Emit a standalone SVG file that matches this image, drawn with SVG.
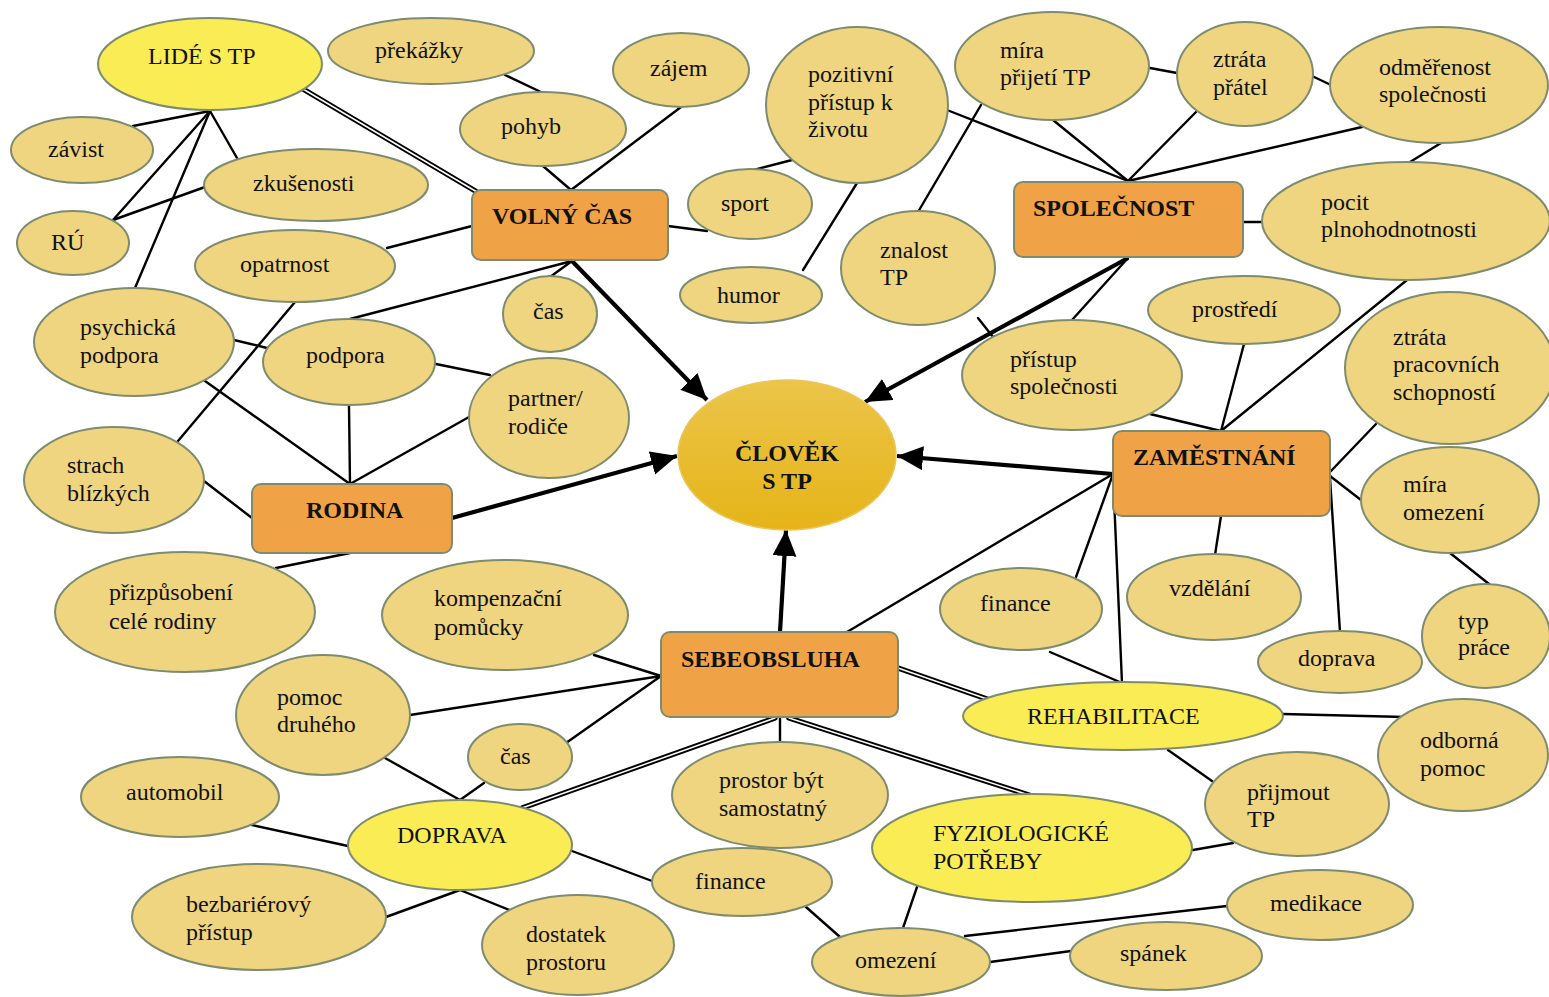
<svg xmlns="http://www.w3.org/2000/svg" width="1549" height="997" viewBox="0 0 1549 997" font-family="Liberation Serif, Times New Roman, DejaVu Serif, serif">
<style>
.n ellipse{fill:#EFD580;stroke:#7D8B6E;stroke-width:2}
.y ellipse{fill:#FAEC55;stroke:#7D8B6E;stroke-width:2}
.r rect{fill:#F0A346;stroke:#7D8B6E;stroke-width:2}
text{font-family:'Liberation Serif','Times New Roman',serif;font-size:24px;fill:#111}
.b{font-weight:bold}
#connectors line{stroke:#000;stroke-width:2.4;stroke-linecap:round}
#connectors line.t{stroke-width:4.2;stroke-linecap:butt}
#connectors line.d{stroke-width:5.4}
#connectors line.di{stroke:#fff;stroke-width:1.5}
</style>
<defs>
<marker id="arr" markerUnits="userSpaceOnUse" markerWidth="28" markerHeight="26" refX="26" refY="12" orient="auto">
<path d="M0,0 L26,12 L0,24 z" fill="#000"/>
</marker>
<linearGradient id="gc" x1="0" y1="0" x2="0" y2="1">
<stop offset="0" stop-color="#EBC54A"/>
<stop offset="1" stop-color="#E6B418"/>
</linearGradient>
</defs>
<rect width="1549" height="997" fill="#fff"/>
<g id="connectors">
<line x1="210" y1="111" x2="133" y2="126"/>
<line x1="210" y1="111" x2="237" y2="158"/>
<line x1="210" y1="111" x2="113" y2="220"/>
<line x1="210" y1="111" x2="135" y2="288"/>
<line x1="205" y1="187" x2="113" y2="220"/>
<line class="d" x1="303" y1="89" x2="477" y2="192"/><line class="di" x1="303" y1="89" x2="477" y2="192"/>
<line x1="505" y1="75" x2="543" y2="93"/>
<line x1="543" y1="166" x2="571" y2="190"/>
<line x1="681" y1="107" x2="571" y2="190"/>
<line x1="387" y1="248" x2="472" y2="226"/>
<line x1="668" y1="226" x2="707" y2="231"/>
<line x1="572" y1="261" x2="350" y2="319"/>
<line x1="572" y1="261" x2="550" y2="277"/>
<line class="t" x1="572" y1="261" x2="707" y2="400" marker-end="url(#arr)"/>
<line x1="750" y1="171" x2="792" y2="160"/>
<line x1="803" y1="270" x2="857" y2="183"/>
<line x1="947" y1="110" x2="1128" y2="181"/>
<line x1="918" y1="212" x2="981" y2="105"/>
<line x1="1053" y1="120" x2="1128" y2="181"/>
<line x1="1150" y1="68" x2="1177" y2="73"/>
<line x1="1312" y1="76" x2="1331" y2="85"/>
<line x1="1196" y1="112" x2="1128" y2="181"/>
<line x1="1362" y1="127" x2="1128" y2="181"/>
<line x1="1441" y1="143" x2="1410" y2="162"/>
<line x1="1243" y1="222" x2="1263" y2="222"/>
<line class="t" x1="1128" y1="258" x2="865" y2="402" marker-end="url(#arr)"/>
<line x1="1128" y1="258" x2="1072" y2="320"/>
<line x1="978" y1="318" x2="993" y2="337"/>
<line x1="1150" y1="414" x2="1221" y2="431"/>
<line x1="1244" y1="344" x2="1221" y2="431"/>
<line x1="1407" y1="280" x2="1221" y2="431"/>
<line x1="1376" y1="424" x2="1330" y2="472"/>
<line x1="1330" y1="476" x2="1361" y2="500"/>
<line x1="1450" y1="553" x2="1489" y2="584"/>
<line x1="1221" y1="516" x2="1215" y2="555"/>
<line class="t" x1="1113" y1="474" x2="897" y2="456" marker-end="url(#arr)"/>
<line x1="1113" y1="474" x2="1076" y2="577"/>
<line x1="1113" y1="474" x2="847" y2="632"/>
<line x1="1113" y1="474" x2="1122" y2="683"/>
<line x1="1330" y1="478" x2="1340" y2="632"/>
<line x1="1050" y1="652" x2="1122" y2="683"/>
<line x1="1283" y1="714" x2="1405" y2="717"/>
<line x1="1168" y1="750" x2="1212" y2="781"/>
<line x1="1193" y1="850" x2="1233" y2="843"/>
<line class="d" x1="898" y1="668" x2="987" y2="699"/><line class="di" x1="898" y1="668" x2="987" y2="699"/>
<line class="d" x1="789" y1="718" x2="1032" y2="796"/><line class="di" x1="789" y1="718" x2="1032" y2="796"/>
<line class="d" x1="775" y1="718" x2="522" y2="808"/><line class="di" x1="775" y1="718" x2="522" y2="808"/>
<line x1="780" y1="717" x2="780" y2="742"/>
<line class="t" x1="780" y1="632" x2="786" y2="530" marker-end="url(#arr)"/>
<line x1="661" y1="676" x2="594" y2="655"/>
<line x1="661" y1="676" x2="410" y2="715"/>
<line x1="661" y1="676" x2="566" y2="743"/>
<line class="t" x1="452" y1="518" x2="677" y2="456" marker-end="url(#arr)"/>
<line x1="350" y1="484" x2="205" y2="381"/>
<line x1="350" y1="484" x2="349" y2="406"/>
<line x1="350" y1="484" x2="469" y2="417"/>
<line x1="252" y1="518" x2="204" y2="481"/>
<line x1="350" y1="553" x2="276" y2="568"/>
<line x1="234" y1="340" x2="267" y2="348"/>
<line x1="436" y1="364" x2="490" y2="375"/>
<line x1="295" y1="302" x2="178" y2="441"/>
<line x1="385" y1="758" x2="460" y2="800"/>
<line x1="484" y1="783" x2="460" y2="800"/>
<line x1="252" y1="825" x2="348" y2="846"/>
<line x1="460" y1="890" x2="386" y2="917"/>
<line x1="460" y1="890" x2="512" y2="911"/>
<line x1="572" y1="851" x2="652" y2="881"/>
<line x1="806" y1="907" x2="840" y2="937"/>
<line x1="917" y1="887" x2="903" y2="928"/>
<line x1="965" y1="936" x2="1227" y2="906"/>
<line x1="990" y1="962" x2="1071" y2="951"/>
</g>

<g id="lide" class="y"><ellipse cx="210" cy="64" rx="112" ry="46"/><text x="148" y="64">LIDÉ S TP</text></g>
<g id="prekazky" class="n"><ellipse cx="431" cy="51" rx="103" ry="33"/><text x="375" y="58">překážky</text></g>
<g id="zajem" class="n"><ellipse cx="681" cy="70" rx="68" ry="37"/><text x="650" y="76">zájem</text></g>
<g id="pohyb" class="n"><ellipse cx="543" cy="129" rx="83" ry="37"/><text x="501" y="134">pohyb</text></g>
<g id="pozitivni" class="n"><ellipse cx="857" cy="105" rx="91" ry="78"/><text x="808" y="82">pozitivní</text><text x="808" y="110">přístup k</text><text x="808" y="137">životu</text></g>
<g id="mira-prijeti" class="n"><ellipse cx="1052" cy="66" rx="97" ry="54"/><text x="1000" y="58">míra</text><text x="1000" y="85">přijetí TP</text></g>
<g id="ztrata-pratel" class="n"><ellipse cx="1245" cy="74" rx="68" ry="52"/><text x="1213" y="67">ztráta</text><text x="1213" y="95">přátel</text></g>
<g id="odmerenost" class="n"><ellipse cx="1439" cy="85" rx="109" ry="58"/><text x="1379" y="75">odměřenost</text><text x="1379" y="102">společnosti</text></g>
<g id="zavist" class="n"><ellipse cx="82" cy="150" rx="71" ry="33"/><text x="48" y="157">závist</text></g>
<g id="zkusenosti" class="n"><ellipse cx="316" cy="185" rx="112" ry="36"/><text x="253" y="191">zkušenosti</text></g>
<g id="ru" class="n"><ellipse cx="73" cy="243" rx="56" ry="32"/><text x="51" y="250">RÚ</text></g>
<g id="opatrnost" class="n"><ellipse cx="295" cy="266" rx="100" ry="36"/><text x="240" y="272">opatrnost</text></g>
<g id="volny-cas" class="r"><rect x="472" y="190" width="196" height="70" rx="9"/><text class="b" x="492" y="224">VOLNÝ ČAS</text></g>
<g id="sport" class="n"><ellipse cx="750" cy="204" rx="62" ry="35"/><text x="721" y="211">sport</text></g>
<g id="humor" class="n"><ellipse cx="751" cy="295" rx="71" ry="28"/><text x="717" y="303">humor</text></g>
<g id="znalost" class="n"><ellipse cx="918" cy="268" rx="77" ry="57"/><text x="880" y="258">znalost</text><text x="880" y="285">TP</text></g>
<g id="spolecnost" class="r"><rect x="1014" y="182" width="229" height="75" rx="9"/><text class="b" x="1033" y="216">SPOLEČNOST</text></g>
<g id="pocit" class="n"><ellipse cx="1406" cy="221" rx="144" ry="59"/><text x="1321" y="210">pocit</text><text x="1321" y="237">plnohodnotnosti</text></g>
<g id="prostredi" class="n"><ellipse cx="1244" cy="310" rx="96" ry="34"/><text x="1192" y="317">prostředí</text></g>
<g id="pristup-spol" class="n"><ellipse cx="1072" cy="375" rx="110" ry="55"/><text x="1010" y="367">přístup</text><text x="1010" y="394">společnosti</text></g>
<g id="ztrata-prac" class="n"><ellipse cx="1450" cy="368" rx="105" ry="76"/><text x="1393" y="345">ztráta</text><text x="1393" y="372">pracovních</text><text x="1393" y="400">schopností</text></g>
<g id="psychicka" class="n"><ellipse cx="134" cy="342" rx="100" ry="54"/><text x="80" y="335">psychická</text><text x="80" y="363">podpora</text></g>
<g id="podpora" class="n"><ellipse cx="349" cy="362" rx="86" ry="43"/><text x="306" y="363">podpora</text></g>
<g id="cas1" class="n"><ellipse cx="550" cy="314" rx="47" ry="38"/><text x="533" y="319">čas</text></g>
<g id="partner" class="n"><ellipse cx="549" cy="418" rx="80" ry="60"/><text x="508" y="406">partner/</text><text x="508" y="434">rodiče</text></g>
<g id="clovek"><ellipse cx="787" cy="455" rx="109" ry="75" fill="url(#gc)" stroke="#EAC55C" stroke-width="1.5"/><text class="b" x="787" y="461" text-anchor="middle">ČLOVĚK</text><text class="b" x="787" y="489" text-anchor="middle">S TP</text></g>
<g id="strach" class="n"><ellipse cx="114" cy="480" rx="90" ry="53"/><text x="67" y="473">strach</text><text x="67" y="501">blízkých</text></g>
<g id="rodina" class="r"><rect x="252" y="484" width="200" height="69" rx="9"/><text class="b" x="306" y="518">RODINA</text></g>
<g id="zamestnani" class="r"><rect x="1113" y="431" width="217" height="85" rx="9"/><text class="b" x="1133" y="465">ZAMĚSTNÁNÍ</text></g>
<g id="mira-omezeni" class="n"><ellipse cx="1450" cy="500" rx="89" ry="53"/><text x="1403" y="492">míra</text><text x="1403" y="520">omezení</text></g>
<g id="prizpusobeni" class="n"><ellipse cx="185" cy="612" rx="130" ry="60"/><text x="109" y="600">přizpůsobení</text><text x="109" y="629">celé rodiny</text></g>
<g id="kompenzacni" class="n"><ellipse cx="505" cy="615" rx="123" ry="55"/><text x="434" y="606">kompenzační</text><text x="434" y="635">pomůcky</text></g>
<g id="finance1" class="n"><ellipse cx="1021" cy="609" rx="81" ry="41"/><text x="980" y="611">finance</text></g>
<g id="vzdelani" class="n"><ellipse cx="1214" cy="597" rx="87" ry="43"/><text x="1169" y="596">vzdělání</text></g>
<g id="doprava1" class="n"><ellipse cx="1340" cy="662" rx="82" ry="31"/><text x="1298" y="666">doprava</text></g>
<g id="typ-prace" class="n"><ellipse cx="1486" cy="636" rx="64" ry="52"/><text x="1458" y="629">typ</text><text x="1458" y="655">práce</text></g>
<g id="sebeobsluha" class="r"><rect x="661" y="632" width="237" height="85" rx="9"/><text class="b" x="681" y="667">SEBEOBSLUHA</text></g>
<g id="pomoc" class="n"><ellipse cx="323" cy="715" rx="87" ry="60"/><text x="277" y="705">pomoc</text><text x="277" y="732">druhého</text></g>
<g id="cas2" class="n"><ellipse cx="520" cy="757" rx="52" ry="33"/><text x="500" y="764">čas</text></g>
<g id="rehabilitace" class="y"><ellipse cx="1123" cy="716" rx="160" ry="34"/><text x="1027" y="724">REHABILITACE</text></g>
<g id="odborna" class="n"><ellipse cx="1463" cy="755" rx="85" ry="56"/><text x="1420" y="748">odborná</text><text x="1420" y="776">pomoc</text></g>
<g id="automobil" class="n"><ellipse cx="180" cy="797" rx="99" ry="40"/><text x="126" y="800">automobil</text></g>
<g id="prostor" class="n"><ellipse cx="780" cy="795" rx="108" ry="53"/><text x="719" y="788">prostor být</text><text x="719" y="816">samostatný</text></g>
<g id="doprava2" class="y"><ellipse cx="460" cy="845" rx="112" ry="45"/><text x="397" y="843">DOPRAVA</text></g>
<g id="fyziologicke" class="y"><ellipse cx="1032" cy="848" rx="160" ry="54"/><text x="933" y="841">FYZIOLOGICKÉ</text><text x="933" y="869">POTŘEBY</text></g>
<g id="prijmout" class="n"><ellipse cx="1297" cy="804" rx="92" ry="52"/><text x="1247" y="800">přijmout</text><text x="1247" y="827">TP</text></g>
<g id="bezbarierovy" class="n"><ellipse cx="259" cy="917" rx="127" ry="53"/><text x="186" y="912">bezbariérový</text><text x="186" y="940">přístup</text></g>
<g id="finance2" class="n"><ellipse cx="742" cy="882" rx="90" ry="34"/><text x="695" y="889">finance</text></g>
<g id="dostatek" class="n"><ellipse cx="578" cy="945" rx="96" ry="50"/><text x="526" y="942">dostatek</text><text x="526" y="970">prostoru</text></g>
<g id="medikace" class="n"><ellipse cx="1320" cy="905" rx="93" ry="35"/><text x="1270" y="911">medikace</text></g>
<g id="omezeni" class="n"><ellipse cx="901" cy="962" rx="89" ry="34"/><text x="855" y="968">omezení</text></g>
<g id="spanek" class="n"><ellipse cx="1166" cy="956" rx="96" ry="34"/><text x="1120" y="961">spánek</text></g>
</svg>
